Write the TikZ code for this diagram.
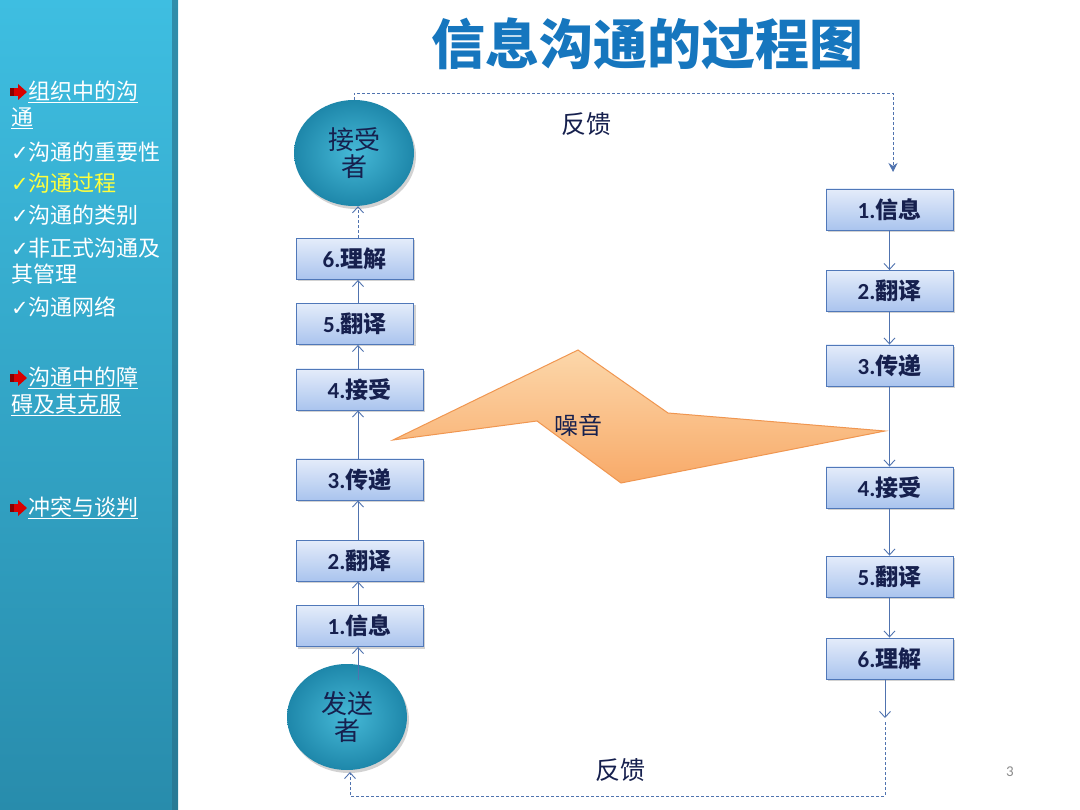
\documentclass[tikz,border=0pt]{standalone}
\usepackage{fontspec}
\setmainfont{Noto Sans CJK SC}
\newfontfamily\dv{DejaVu Sans}
\newfontfamily\carl{Carlito}
\usetikzlibrary{arrows.meta,shadows,shapes.geometric}
\definecolor{navy}{RGB}{22,32,78}
\definecolor{sidetop}{RGB}{62,190,225}
\definecolor{sidebot}{RGB}{40,140,172}
\definecolor{sideedge}{RGB}{40,110,135}
\definecolor{titleblue}{RGB}{22,118,190}
\definecolor{boxtop}{RGB}{228,236,250}
\definecolor{boxbot}{RGB}{170,196,238}
\definecolor{boxborder}{RGB}{80,120,185}
\definecolor{arrowc}{RGB}{80,115,175}
\definecolor{elltop}{RGB}{70,185,215}
\definecolor{ellbot}{RGB}{30,135,170}
\definecolor{noisetop}{RGB}{252,215,170}
\definecolor{noisebot}{RGB}{248,170,105}
\definecolor{noiseedge}{RGB}{240,150,80}
\definecolor{checkyellow}{RGB}{255,255,60}
\newcommand{\chk}{{\dv\fontsize{21}{22}\selectfont ✓}}
\newcommand{\num}[1]{{\carl\bfseries #1}}
\tikzset{
  stepbox/.style={draw=boxborder, line width=0.9pt, top color=boxtop, bottom color=boxbot,
    minimum height=41pt, inner sep=0pt, text=navy, font=\fontsize{23}{26}\selectfont\bfseries,
    drop shadow={shadow xshift=2pt, shadow yshift=-2pt, opacity=0.35}},
  wbox/.style={stepbox, minimum width=127pt},
  nbox/.style={stepbox, minimum width=117pt},
  person/.style={ellipse, draw=none, inner color=elltop, outer color=ellbot, minimum width=120pt,
    minimum height=106pt, text=navy, align=center, font=\fontsize{26}{30}\selectfont,
    drop shadow={shadow xshift=2pt, shadow yshift=-3pt, opacity=0.35}},
  arr/.style={draw=arrowc, line width=0.9pt, -{Straight Barb[length=6pt,width=11pt,line width=0.9pt]}},
  fb/.style={draw=arrowc, line width=0.9pt, dashed, dash pattern=on 3pt off 2pt},
  side/.style={text=white, font=\fontsize{22}{26}\selectfont, anchor=west, inner sep=0pt},
  lbl/.style={text=navy, font=\fontsize{25}{28}\selectfont},
  redarr/.pic={
    \fill[red!85!black] (-8,-4) rectangle (0,4);
    \fill[red!85!black] (0,-8) -- (9,0) -- (0,8) -- cycle;
    \fill[black!60!red, opacity=0.7] (-8,-4) rectangle (-4,4);
  }
}
\begin{document}
\begin{tikzpicture}[x=1pt,y=-1pt]
\useasboundingbox (0,0) rectangle (1080,810);
\fill[white] (0,0) rectangle (1080,810);
% sidebar
\shade[top color=sidetop, bottom color=sidebot] (0,0) rectangle (178,810);
\fill[sideedge, opacity=0.6] (172,0) rectangle (178,810);

\pic at (18,92) {redarr};
\node[side] (s1) at (28,92) {\underline{组织中的沟}};
\node[side] (s1b) at (11,118) {\underline{通}};
\node[side] (s2) at (11,152) {\chk 沟通的重要性};
\node[side, text=checkyellow] (s3) at (11,183) {\chk 沟通过程};
\node[side] (s4) at (11,215) {\chk 沟通的类别};
\node[side] (s5) at (11,248) {\chk 非正式沟通及};
\node[side] (s5b) at (11,274) {其管理};
\node[side] (s6) at (11,307) {\chk 沟通网络};
\pic at (18,378) {redarr};
\node[side] (s7) at (28,378) {\underline{沟通中的障}};
\node[side] (s7b) at (11,405) {\underline{碍及其克服}};
\pic at (18,508) {redarr};
\node[side] (s8) at (28,508) {\underline{冲突与谈判}};

% title
\node[text=titleblue, font=\fontsize{54}{60}\selectfont\bfseries] (title) at (647,44) {信息沟通的过程图};

% noise
\draw[noiseedge, line width=1pt, top color=noisetop, bottom color=noisebot]
  (393,440) -- (578,350) -- (668,413) -- (885,431) -- (621,483) -- (537,421) -- cycle;
\node[text=navy, font=\fontsize{24}{27}\selectfont] (noise) at (578,425) {噪音};

% left column
\coordinate (lx) at (358,0);
\node[person] (recv) at (354,153) {接受\\[-3pt]者};
\node[nbox] (l6) at (354.5,259) {\num{6.}理解};
\node[nbox] (l5) at (355,324) {\num{5.}翻译};
\node[wbox] (l4) at (359.5,389.5) {\num{4.}接受};
\node[wbox] (l3) at (359.5,479.5) {\num{3.}传递};
\node[wbox] (l2) at (359.5,560.5) {\num{2.}翻译};
\node[wbox] (l1) at (359.5,626) {\num{1.}信息};
\node[person] (send) at (347,717) {发送\\[-3pt]者};
\coordinate (sendin) at (358,680);

\draw[arr] (sendin) -- (l1.south -| lx);
\draw[arr] (l1.north -| lx) -- (l2.south -| lx);
\draw[arr] (l2.north -| lx) -- (l3.south -| lx);
\draw[arr] (l3.north -| lx) -- (l4.south -| lx);
\draw[arr] (l4.north -| lx) -- (l5.south -| lx);
\draw[arr] (l5.north -| lx) -- (l6.south -| lx);
\draw[arr, dashed, dash pattern=on 3pt off 2pt] (l6.north -| lx) -- (recv.south -| lx);

% right column
\node[wbox] (r1) at (889.5,209.5) {\num{1.}信息};
\node[wbox] (r2) at (889.5,291) {\num{2.}翻译};
\node[wbox] (r3) at (889.5,365.5) {\num{3.}传递};
\node[wbox] (r4) at (889.5,487.5) {\num{4.}接受};
\node[wbox] (r5) at (889.5,576.5) {\num{5.}翻译};
\node[wbox] (r6) at (889.5,658.5) {\num{6.}理解};

\draw[arr] (r1) -- (r2);
\draw[arr] (r2) -- (r3);
\draw[arr] (r3) -- (r4);
\draw[arr] (r4) -- (r5);
\draw[arr] (r5) -- (r6);
\coordinate (rx) at (885,0);
\coordinate (rend) at (885,718);
\draw[arr] (r6.south -| rx) -- (rend);

% feedback loops
\coordinate (tcorner) at (893,93);
\coordinate (tend) at (893,172);
\draw[fb, -{Stealth[length=9pt,width=9pt]}] (recv.north) |- (tcorner) -- (tend);
\coordinate (bstart) at (885,722);
\coordinate (bcorner) at (885,796);
\coordinate (bleft) at (350,796);
\coordinate (bend) at (350,772);
\draw[fb, -{Straight Barb[length=6pt,width=11pt,line width=0.9pt]}] (bstart) -- (bcorner) -- (bleft) -- (bend);

\node[lbl] (fbtop) at (586,124) {反馈};
\node[lbl] (fbbot) at (620,770) {反馈};

\node[text=black!45, font=\carl\fontsize{15}{18}\selectfont] (page) at (1010,772) {3};
\end{tikzpicture}
\end{document}
